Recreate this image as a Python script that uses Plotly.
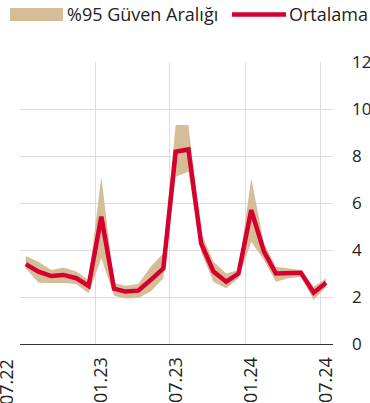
import plotly.graph_objects as go

months = ["2022-07-15", "2022-08-15", "2022-09-15", "2022-10-15", "2022-11-15", "2022-12-15",
          "2023-01-15", "2023-02-15", "2023-03-15", "2023-04-15", "2023-05-15", "2023-06-15",
          "2023-07-15", "2023-08-15", "2023-09-15", "2023-10-15", "2023-11-15", "2023-12-15",
          "2024-01-15", "2024-02-15", "2024-03-15", "2024-04-15", "2024-05-15", "2024-06-15",
          "2024-07-15"]
mean = [3.40, 3.08, 2.89, 2.94, 2.80, 2.47, 5.42, 2.35, 2.23, 2.27, 2.72, 3.22,
        8.18, 8.28, 4.28, 3.08, 2.65, 3.00, 5.70, 3.93, 3.00, 3.00, 3.03, 2.18, 2.61]
upper = [3.74, 3.50, 3.15, 3.26, 3.08, 2.72, 7.12, 2.60, 2.48, 2.55, 3.29, 3.86,
         9.32, 9.32, 4.72, 3.50, 3.00, 3.15, 7.05, 4.28, 3.29, 3.22, 3.15, 2.44, 2.80]
lower = [3.22, 2.61, 2.60, 2.60, 2.55, 2.16, 3.65, 2.05, 1.94, 1.96, 2.23, 2.80,
         7.12, 7.33, 3.90, 2.65, 2.37, 2.80, 4.35, 3.57, 2.65, 2.80, 2.86, 1.87, 2.44]
tick_dates = ["2022-07-01", "2023-01-01", "2023-07-01", "2024-01-01", "2024-07-01"]
tick_labels = ["07.22", "01.23", "07.23", "01.24", "07.24"]
y_ticks = [0, 2, 4, 6, 8, 10, 12]
legend_names = ["%95 Güven Aralığı", "Ortalama"]

RED = "#d5002f"
TAN = "#d5bd98"
FONT = "Open Sans"

fig = go.Figure()
fig.add_trace(go.Scatter(x=months, y=lower, mode="lines", line=dict(width=0, color=TAN),
                         showlegend=False, hoverinfo="skip"))
fig.add_trace(go.Scatter(x=months, y=upper, mode="lines", line=dict(width=0, color=TAN),
                         fill="tonexty", fillcolor=TAN, showlegend=False, name=legend_names[0]))
fig.add_trace(go.Scatter(x=months, y=mean, mode="lines", line=dict(width=4.5, color=RED),
                         showlegend=False, name=legend_names[1]))

# body margin is removed by post_script, so figure coords = screen coords
W, H = 370, 403
L, R, T, B = 20, W - 333, 62, H - 344
pw, ph = W - L - R, H - T - B

def px(x):
    return (x - L) / pw

def py(y):
    return (H - B - y) / ph

shapes = [
    dict(type="rect", xref="paper", yref="paper", x0=px(10), x1=px(63), y0=py(21), y1=py(8),
         fillcolor=TAN, line=dict(width=0)),
    dict(type="line", xref="paper", yref="paper", x0=px(232), x1=px(286), y0=py(14.5), y1=py(14.5),
         line=dict(color=RED, width=4.5)),
]
annotations = [
    dict(xref="paper", yref="paper", x=px(65), y=py(14.5), text=legend_names[0], showarrow=False,
         xanchor="left", yanchor="middle", font=dict(family=FONT, size=18, color="#222")),
    dict(xref="paper", yref="paper", x=px(287), y=py(14.5), text=legend_names[1], showarrow=False,
         xanchor="left", yanchor="middle", font=dict(family=FONT, size=18, color="#222")),
    # first x label sits at the far left edge in the reference
    dict(xref="paper", yref="paper", x=px(6), y=py(382), text=tick_labels[0], showarrow=False,
         textangle=-90, xanchor="center", yanchor="middle",
         font=dict(family=FONT, size=18, color="#222")),
]

fig.update_layout(
    width=W, height=H, margin=dict(l=L, r=R, t=T, b=B),
    paper_bgcolor="white", plot_bgcolor="white",
    showlegend=False, shapes=shapes, annotations=annotations,
    font=dict(family=FONT, color="#222"),
    xaxis=dict(type="date", range=["2022-07-01", "2024-08-01"], tickvals=tick_dates,
               ticktext=[""] + tick_labels[1:], tickangle=-90, showgrid=True, gridcolor="#dddddd",
               gridwidth=1, showline=True, linecolor="#333", linewidth=1, ticks="",
               automargin=False, ticklabelstandoff=5, ticklabelshift=6,
               ticklabeloverflow="allow",
               tickfont=dict(size=18, color="#222"), zeroline=False),
    yaxis=dict(range=[0, 12], tickvals=y_ticks, side="right", showgrid=True,
               gridcolor="#dddddd", gridwidth=1, zeroline=False, ticks="",
               automargin=False, ticklabelstandoff=18, ticklabeloverflow="allow",
               tickfont=dict(size=17, color="#222")),
)

fig.write_html("out.html", config={"displayModeBar": False},
               post_script="document.body.style.margin='0px';document.body.style.overflow='hidden';")
